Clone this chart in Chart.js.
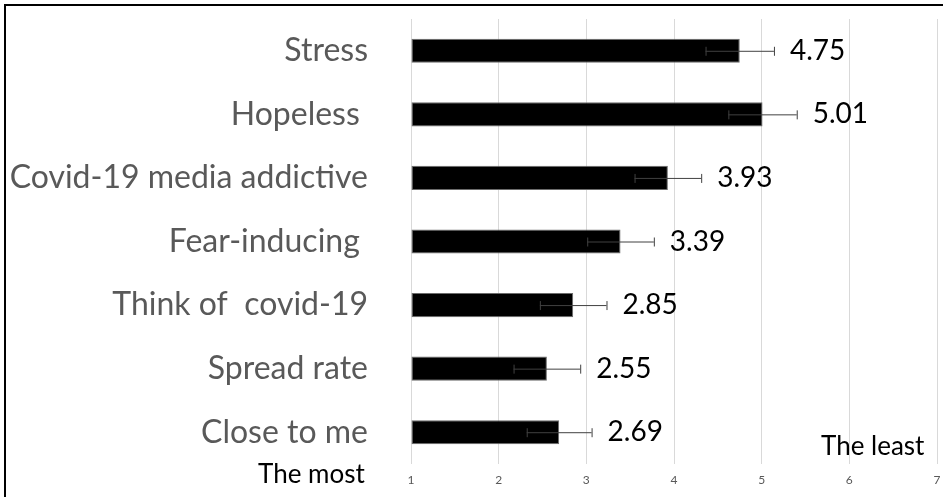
<!DOCTYPE html>
<html>
<head>
<meta charset="utf-8">
<script src="https://cdn.jsdelivr.net/npm/chart.js@4.4.1/dist/chart.umd.min.js"></script>
<style>
  html, body { margin: 0; padding: 0; background: #fff; }
  #wrap { width: 943px; height: 497px; position: relative; }
</style>
</head>
<body>
<div id="wrap"><canvas id="chart" width="943" height="497"></canvas></div>
<script>
const categories = ['Stress', 'Hopeless ', 'Covid-19 media addictive', 'Fear-inducing ', 'Think of  covid-19', 'Spread rate', 'Close to me'];
const means = [4.75, 5.01, 3.93, 3.39, 2.85, 2.55, 2.69];
const errors = [0.39, 0.39, 0.38, 0.38, 0.38, 0.38, 0.37];
const xTicks = [1, 2, 3, 4, 5, 6, 7];

const font = 'Lato, "Open Sans", sans-serif';

// error bars, value labels, corner notes and frame
const extras = {
    id: 'extras',
    afterDatasetsDraw(chart) {
        const ctx = chart.ctx;
        const x = chart.scales.x;
        const y = chart.scales.y;
        ctx.save();
        means.forEach((m, i) => {
            const cy = y.getPixelForValue(i);
            const x0 = x.getPixelForValue(m - errors[i]);
            const x1 = x.getPixelForValue(m + errors[i]);
            ctx.strokeStyle = '#404040';
            ctx.lineWidth = 1;
            ctx.beginPath();
            ctx.moveTo(x0, cy + 0.5); ctx.lineTo(x1, cy + 0.5);
            ctx.moveTo(x0 + 0.5, cy - 4); ctx.lineTo(x0 + 0.5, cy + 5);
            ctx.moveTo(x1 + 0.5, cy - 4); ctx.lineTo(x1 + 0.5, cy + 5);
            ctx.stroke();

            ctx.fillStyle = '#000';
            ctx.font = '28px ' + font;
            ctx.textAlign = 'left';
            ctx.textBaseline = 'middle';
            ctx.fillText(m.toFixed(2), x1 + 16, cy);
        });

        ctx.font = '26px ' + font;
        ctx.fillStyle = '#000';
        ctx.textBaseline = 'middle';
        ctx.textAlign = 'left';
        ctx.fillText('The most', 258, 475);
        ctx.fillText('The least', 821, 447);

        ctx.strokeStyle = '#000';
        ctx.lineWidth = 2;
        ctx.strokeRect(5, 5, 960, 520);
        ctx.restore();
    }
};

new Chart(document.getElementById('chart').getContext('2d'), {
    type: 'bar',
    data: {
        labels: categories,
        datasets: [{
            data: means,
            base: 1,
            backgroundColor: '#000',
            borderColor: '#6b6b6b',
            borderWidth: 1,
            borderSkipped: false,
            categoryPercentage: 1,
            barPercentage: 0.38
        }]
    },
    options: {
        indexAxis: 'y',
        responsive: false,
        animation: false,
        layout: { padding: { left: 0, right: 6, top: 19, bottom: 0 } },
        plugins: { legend: { display: false }, tooltip: { enabled: false } },
        scales: {
            x: {
                min: 1,
                max: 7,
                afterBuildTicks: s => { s.ticks = xTicks.map(v => ({ value: v })); },
                afterFit: s => { s.height = 33; s.paddingLeft = 0; s.paddingRight = 0; },
                grid: { color: '#d9d9d9', drawTicks: false },
                border: { display: false },
                ticks: { color: '#595959', font: { family: font, size: 12 }, padding: 9 }
            },
            y: {
                afterFit: s => { s.width = 411; s.paddingTop = 0; s.paddingBottom = 0; },
                grid: { display: false, drawTicks: false },
                border: { display: false },
                ticks: { color: '#595959', font: { family: font, size: 32 }, padding: 43 }
            }
        }
    },
    plugins: [extras]
});
</script>
</body>
</html>
